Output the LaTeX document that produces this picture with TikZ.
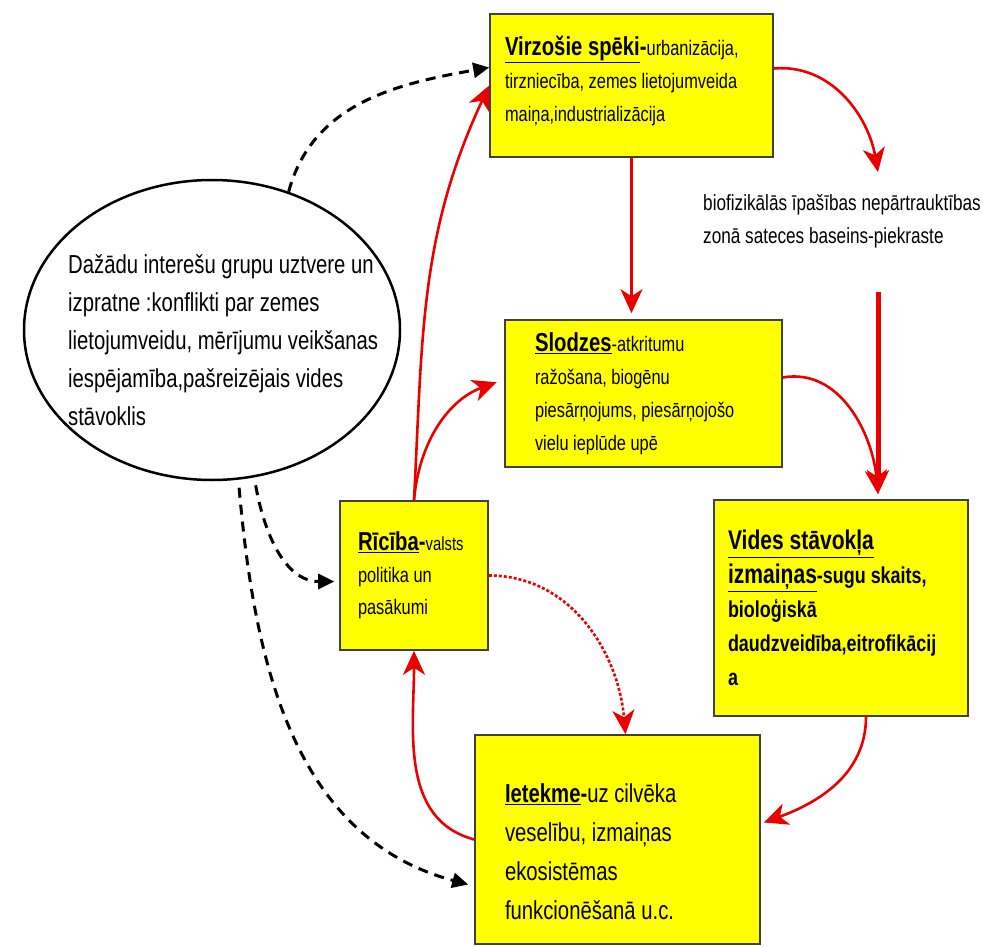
\documentclass[tikz,border=0pt]{standalone}
\usepackage{fontspec}
\setmainfont{Liberation Sans}[FakeStretch=0.78]
\usetikzlibrary{arrows.meta,shapes.geometric,calc}

\definecolor{boxyellow}{RGB}{255,255,0}
\definecolor{arrred}{RGB}{235,0,0}

\tikzset{
  box/.style={draw=black!75, line width=1.6pt, fill=boxyellow, align=flush left, inner sep=0pt},
  redarr/.style={arrred, line width=2.6pt, -{Stealth[length=24pt,width=22pt,inset=7pt]}},
  blkdash/.style={black, line width=3pt, dash pattern=on 10pt off 7pt, -{Triangle[length=16pt,width=15pt]}},
}
\newcommand{\ttl}[1]{\underline{\textbf{#1}}}
\newcommand{\fs}[2]{\fontsize{#1}{#2}\selectfont}

\begin{document}
\begin{tikzpicture}[x=1pt,y=1pt]
\useasboundingbox (0,0) rectangle (983,-947);

% boxes
\node[box, minimum width=283pt, minimum height=143pt, text width=253pt, font=\fs{21}{33}] (virz) at (631.5,-85.5)
  {\ttl{\fs{26}{33}Virzošie spēki}\textbf{\fs{26}{33}-}urbanizācija,\\
   tirzniecība, zemes lietojumveida\\ maiņa,industrializācija\rule[-14pt]{0pt}{0pt}};
\node[box, minimum width=277pt, minimum height=147pt, text width=217pt, font=\fs{21}{33}] (slod) at (643.5,-393.5)
  {\ttl{\fs{26}{33}Slodzes}-atkritumu\\
   ražošana, biogēnu\\ piesārņojums, piesārņojošo\\ vielu ieplūde upē};
\node[box, minimum width=254pt, minimum height=216pt, text width=226pt, font=\fs{23}{34}\bfseries] (vides) at (841,-608)
  {\ttl{\fs{27}{34}Vides stāvokļa}\\
   \ttl{\fs{27}{34}izmaiņas}-sugu skaits,\\ bioloģiskā\\ daudzveidība,eitrofikācij\\ a};
\node[box, minimum width=148pt, minimum height=149pt, text width=112pt, font=\fs{21}{32}] (ricib) at (414,-575.5)
  {\ttl{\fs{26}{32}Rīcība}\textbf{\fs{26}{32}-}{\fs{19}{32}valsts}\\
   politika un\\ pasākumi};
\node[box, minimum width=285pt, minimum height=209pt, text width=225pt, font=\fs{26}{39}] (iet) at (617.5,-839.5)
  {\rule{0pt}{44pt}\ttl{Ietekme}\textbf{-}uz cilvēka\\
   veselību, izmaiņas\\ ekosistēmas\\ funkcionēšanā u.c.};

% stakeholders
\node[ellipse, draw, line width=2.5pt, minimum width=376pt, minimum height=300pt] (stake) at (212,-330) {};
\node[align=flush left, text width=320pt, anchor=north west, inner sep=0pt, font=\fs{26}{38}] (staketxt) at (68,-254)
  {Dažādu interešu grupu uztvere un\\ izpratne :konflikti par  zemes\\
   lietojumveidu, mērījumu veikšanas\\ iespējamība,pašreizējais vides\\ stāvoklis};

% watershed note
\node[align=left, inner sep=0pt, font=\fs{22}{33}] (bio) at (842,-221)
  {biofizikālās īpašības nepārtrauktības\\ zonā sateces baseins-piekraste};
\coordinate (flowin) at (878,-172);
\coordinate (flowout) at (878,-292);

% dashed links
\draw[blkdash] (stake.61) to[out=75,in=190] ([yshift=18pt]virz.west);
\draw[blkdash, shorten <=8pt] (stake.-74) to[out=-80,in=180] ([xshift=-5pt,yshift=-6pt]ricib.west);
\draw[blkdash, shorten <=8pt] (stake.-80) to[out=-85,in=165] ([xshift=-6pt,yshift=-45pt]iet.west);

% red links
\draw[redarr] (ricib.north) to[out=87,in=245] (virz.west);
\draw[redarr, shorten >=8pt] (ricib.north) to[out=85,in=200] ([yshift=14pt]slod.west);
\draw[redarr] (virz.south) -- ([yshift=6pt]virz.south |- slod.north);
\draw[redarr] ([yshift=17pt]virz.east) to[out=5,in=100] (flowin);
\draw[redarr, line width=5pt] (flowout) -- ([yshift=5pt]flowout |- vides.north);
\draw[redarr] ([yshift=16pt]slod.east) to[out=10,in=95] ([yshift=5pt]flowout |- vides.north);
\draw[redarr] ([xshift=25pt]vides.south) to[out=-90,in=20] ([xshift=3pt,yshift=17pt]iet.east);
\draw[redarr] (iet.west) to[out=165,in=-90] (ricib.south);
\draw[redarr, dash pattern=on 3pt off 2pt] (ricib.east) to[out=0,in=95] ([xshift=8pt]iet.north);
\end{tikzpicture}
\end{document}
